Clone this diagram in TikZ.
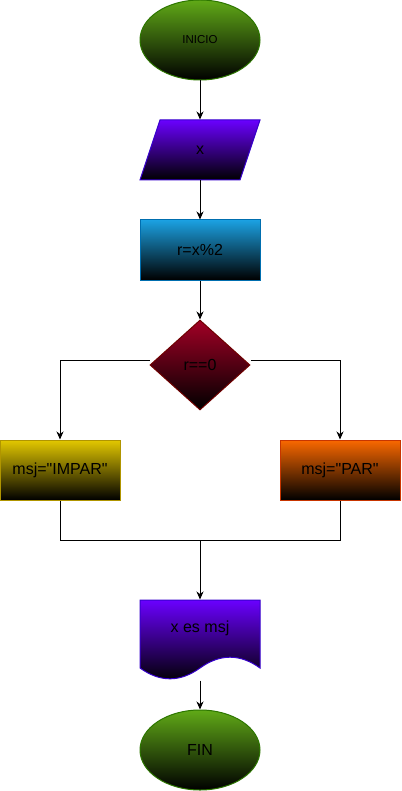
\documentclass[tikz,border=0pt]{standalone}
\usepackage{fontspec}
\setmainfont{Liberation Sans}
\newfontfamily\libf{Liberation Sans}
\usetikzlibrary{shapes.geometric,arrows.meta}
\definecolor{gfill}{HTML}{60A917}\definecolor{gline}{HTML}{2D7600}
\definecolor{pfill}{HTML}{6A00FF}\definecolor{pline}{HTML}{3700CC}
\definecolor{bfill}{HTML}{1BA1E2}\definecolor{bline}{HTML}{006EAF}
\definecolor{rfill}{HTML}{A20025}\definecolor{rline}{HTML}{6F0000}
\definecolor{yfill}{HTML}{E3C800}\definecolor{yline}{HTML}{B09500}
\definecolor{ofill}{HTML}{FA6800}\definecolor{oline}{HTML}{C73500}
\tikzset{
  base/.style={inner sep=0pt, line width=1pt, text=black, font=\libf\fontsize{16}{19}\selectfont},
  term/.style={base, ellipse, minimum width=120pt, minimum height=80pt, draw=gline, top color=gfill, bottom color=black},
  proc/.style={base, rectangle, minimum width=120pt, minimum height=60pt},
  ghost/.style={base, rectangle, minimum width=120pt},
  arr/.style={line width=1pt, -{Stealth[length=8pt,width=7pt,inset=2.5pt]}},
  ln/.style={line width=1pt},
}
\begin{document}
\begin{tikzpicture}[x=1pt,y=-1pt]
\useasboundingbox (0,0) rectangle (401,791);
% INICIO
\node[term, font=\libf\fontsize{11.5}{14}\selectfont] (ini) at (200,40) {INICIO};
% input parallelogram
\path[line width=1pt, draw=pline, top color=pfill, bottom color=black]
  (160,120) -- (260,120) -- (240,180) -- (140,180) -- cycle;
\node[ghost, minimum height=60pt] (inp) at (200,150) {x};
% process
\node[proc, draw=bline, top color=bfill, bottom color=black] (proc) at (200,250) {r=x\%2};
% decision
\node[base, diamond, minimum width=100pt, minimum height=90pt, draw=rline, top color=rfill, bottom color=black] (dec) at (200,365) {r==0};
% branches
\node[proc, draw=yline, top color=yfill, bottom color=black] (imp) at (60,470) {msj="IMPAR"};
\node[proc, draw=oline, top color=ofill, bottom color=black] (par) at (340,470) {msj="PAR"};
\coordinate (j) at (200,540);
% document
\path[line width=1pt, draw=pline, top color=pfill, bottom color=black]
  (140,600) -- (260,600) -- (260,668)
  .. controls (240,653.6) and (220,653.6) .. (200,668)
  .. controls (180,682.4) and (160,682.4) .. (140,668) -- cycle;
\node[ghost, minimum height=80pt] (doc) at (200,640) {};
\node[base] (doct) at (200,628) {x es msj};
% FIN
\node[term] (fin) at (200,750) {FIN};
% connectors
\draw[arr] (ini) -- (inp);
\draw[arr] (inp) -- (proc);
\draw[arr] (proc) -- (dec);
\draw[arr] ([yshift=5pt]dec.west) -| (imp.north);
\draw[arr] ([yshift=5pt]dec.east) -| (par.north);
\draw[ln] (imp.south) |- (j);
\draw[ln] (par.south) |- (j);
\draw[arr] (j) -- (doc.north);
\draw[arr] (doc.south) -- (fin);
\end{tikzpicture}
\end{document}
